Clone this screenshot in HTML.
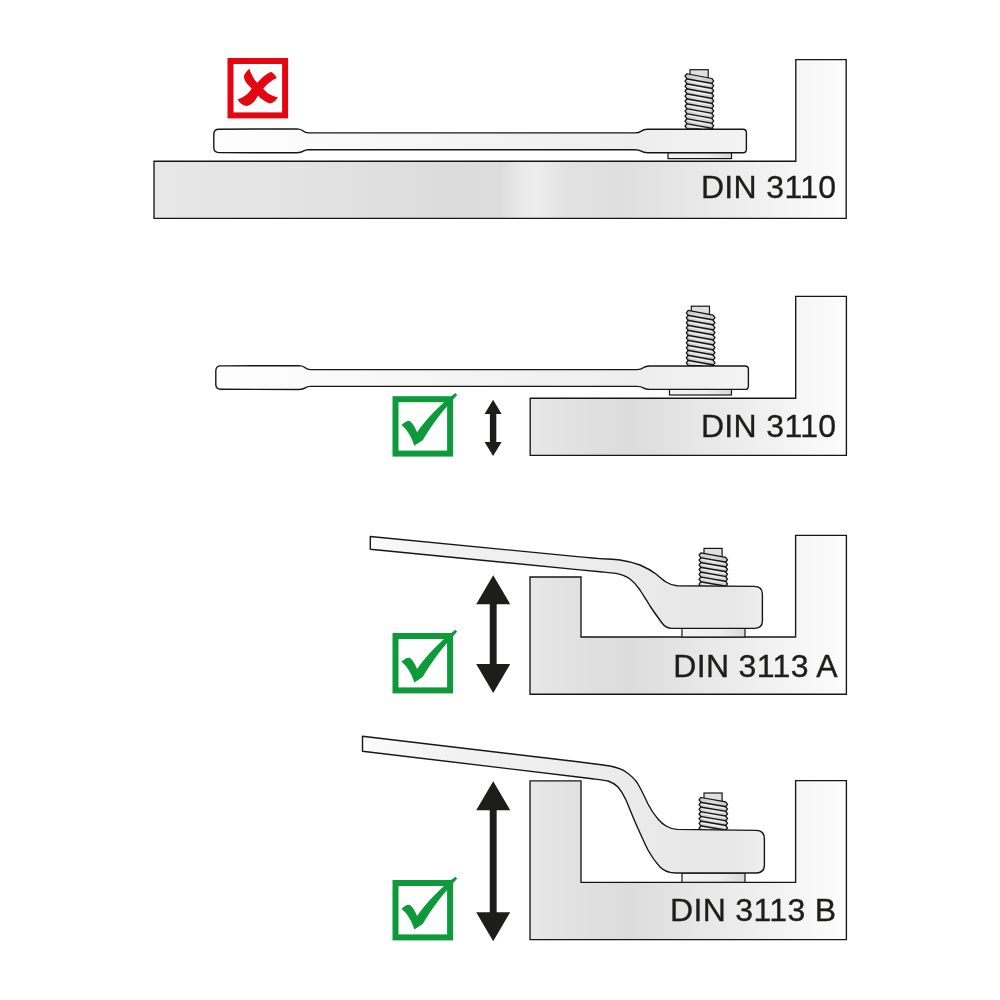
<!DOCTYPE html>
<html lang="de">
<head>
<meta charset="utf-8">
<title>DIN 3110 / DIN 3113 A / DIN 3113 B</title>
<style>
html,body{margin:0;padding:0;background:#fff;}
body{width:1000px;height:1000px;overflow:hidden;}
svg{display:block;will-change:transform;}
.lbl{font-family:"Liberation Sans",Arial,sans-serif;font-size:32px;letter-spacing:0.35px;fill:#1d1d1b;stroke:#1d1d1b;stroke-width:0.35px;}
</style>
</head>
<body>
<svg width="1000" height="1000" viewBox="0 0 1000 1000">
<rect width="1000" height="1000" fill="#fff"/>

<defs>
<linearGradient id="g1" gradientUnits="userSpaceOnUse" x1="155" y1="0" x2="846" y2="0">
 <stop offset="0" stop-color="#e7e7e7"/><stop offset="0.2" stop-color="#e3e3e3"/><stop offset="0.42" stop-color="#dcdcdc"/>
 <stop offset="0.5" stop-color="#dddddd"/><stop offset="0.535" stop-color="#ebebeb"/><stop offset="0.555" stop-color="#ededed"/>
 <stop offset="0.6" stop-color="#e1e1e1"/><stop offset="0.68" stop-color="#dfdfdf"/><stop offset="0.8" stop-color="#e9e9e9"/>
 <stop offset="0.93" stop-color="#f6f6f6"/><stop offset="1" stop-color="#fcfcfc"/>
</linearGradient>
<linearGradient id="g2" gradientUnits="userSpaceOnUse" x1="530" y1="0" x2="846" y2="0">
 <stop offset="0" stop-color="#e7e7e7"/><stop offset="0.08" stop-color="#e4e4e4"/><stop offset="0.2" stop-color="#dfdfdf"/><stop offset="0.32" stop-color="#dcdcdc"/>
 <stop offset="0.55" stop-color="#e8e8e8"/><stop offset="0.7" stop-color="#eeeeee"/><stop offset="0.85" stop-color="#f6f6f6"/><stop offset="1" stop-color="#fcfcfc"/>
</linearGradient>
<linearGradient id="gwr" gradientUnits="userSpaceOnUse" x1="214" y1="0" x2="748" y2="0">
 <stop offset="0" stop-color="#fefefe"/><stop offset="0.2" stop-color="#fafafa"/><stop offset="0.5" stop-color="#f3f3f3"/><stop offset="0.8" stop-color="#eeeeee"/><stop offset="1" stop-color="#f3f3f3"/>
</linearGradient>
<linearGradient id="gwo" gradientUnits="userSpaceOnUse" x1="360" y1="0" x2="765" y2="0">
 <stop offset="0" stop-color="#fbfbfb"/><stop offset="0.25" stop-color="#f1f1f1"/><stop offset="0.5" stop-color="#eeeeee"/><stop offset="0.75" stop-color="#e9e9e9"/><stop offset="0.92" stop-color="#e7e7e7"/><stop offset="1" stop-color="#eeeeee"/>
</linearGradient>
<linearGradient id="gb" x1="0" y1="0" x2="1" y2="0">
 <stop offset="0" stop-color="#c8c8c8"/><stop offset="0.5" stop-color="#dcdcdc"/><stop offset="1" stop-color="#c4c4c4"/>
</linearGradient>
<linearGradient id="gw" x1="0" y1="0" x2="1" y2="0">
 <stop offset="0" stop-color="#f4f4f4"/><stop offset="0.6" stop-color="#eeeeee"/><stop offset="1" stop-color="#d8d8d8"/>
</linearGradient>
</defs>
<g id="panel-din3110-blocked" role="img" aria-label="DIN 3110 wrench blocked by surface">
<path d="M154,161.2 L795.8,161.2 L795.8,59.6 L846.2,59.6 L846.2,218.4 L154,218.4Z" fill="url(#g1)" stroke="#161616" stroke-width="1.35" stroke-linejoin="miter"/>
<rect x="690.00" y="69.70" width="18.20" height="9.05" fill="#e0e0e0" stroke="#161616" stroke-width="1.2"/>
<path d="M686.90,73.75 L685.00,76.24 L686.90,78.74 L685.00,81.23 L686.90,83.72 L685.00,86.22 L686.90,88.71 L685.00,91.20 L686.90,93.70 L685.00,96.19 L686.90,98.68 L685.00,101.17 L686.90,103.67 L685.00,106.16 L686.90,108.65 L685.00,111.15 L686.90,113.64 L685.00,116.13 L686.90,118.63 L685.00,121.12 L686.90,123.61 L685.00,126.11 L686.90,128.60 L711.80,129.20 L713.70,129.20 L711.80,128.35 L713.70,125.86 L711.80,123.36 L713.70,120.87 L711.80,118.38 L713.70,115.88 L711.80,113.39 L713.70,110.90 L711.80,108.41 L713.70,105.91 L711.80,103.42 L713.70,100.93 L711.80,98.43 L713.70,95.94 L711.80,93.45 L713.70,90.95 L711.80,88.46 L713.70,85.97 L711.80,83.47 L713.70,80.98 L711.80,78.49Z" fill="url(#gb)" stroke="#161616" stroke-width="1.25" stroke-linejoin="round"/>
<path d="M687.60,80.64 L711.10,85.07" stroke="#f4f4f4" stroke-width="1.15" fill="none"/>
<path d="M686.20,78.74 L712.50,83.47" stroke="#161616" stroke-width="1.45" fill="none"/>
<path d="M687.60,85.62 L711.10,90.06" stroke="#f4f4f4" stroke-width="1.15" fill="none"/>
<path d="M686.20,83.72 L712.50,88.46" stroke="#161616" stroke-width="1.45" fill="none"/>
<path d="M687.60,90.61 L711.10,95.05" stroke="#f4f4f4" stroke-width="1.15" fill="none"/>
<path d="M686.20,88.71 L712.50,93.45" stroke="#161616" stroke-width="1.45" fill="none"/>
<path d="M687.60,95.60 L711.10,100.03" stroke="#f4f4f4" stroke-width="1.15" fill="none"/>
<path d="M686.20,93.70 L712.50,98.43" stroke="#161616" stroke-width="1.45" fill="none"/>
<path d="M687.60,100.58 L711.10,105.02" stroke="#f4f4f4" stroke-width="1.15" fill="none"/>
<path d="M686.20,98.68 L712.50,103.42" stroke="#161616" stroke-width="1.45" fill="none"/>
<path d="M687.60,105.57 L711.10,110.01" stroke="#f4f4f4" stroke-width="1.15" fill="none"/>
<path d="M686.20,103.67 L712.50,108.41" stroke="#161616" stroke-width="1.45" fill="none"/>
<path d="M687.60,110.55 L711.10,114.99" stroke="#f4f4f4" stroke-width="1.15" fill="none"/>
<path d="M686.20,108.65 L712.50,113.39" stroke="#161616" stroke-width="1.45" fill="none"/>
<path d="M687.60,115.54 L711.10,119.98" stroke="#f4f4f4" stroke-width="1.15" fill="none"/>
<path d="M686.20,113.64 L712.50,118.38" stroke="#161616" stroke-width="1.45" fill="none"/>
<path d="M687.60,120.53 L711.10,124.96" stroke="#f4f4f4" stroke-width="1.15" fill="none"/>
<path d="M686.20,118.63 L712.50,123.36" stroke="#161616" stroke-width="1.45" fill="none"/>
<path d="M687.60,125.51 L711.10,129.95" stroke="#f4f4f4" stroke-width="1.15" fill="none"/>
<path d="M686.20,123.61 L712.50,128.35" stroke="#161616" stroke-width="1.45" fill="none"/>
<rect x="668" y="152.5" width="63.5" height="6.099999999999994" fill="url(#gw)" stroke="#161616" stroke-width="1.2"/>
<path d="M218.8,129.2 L297,128.89999999999998 C305,129.2 301.5,132.9 308.5,132.9 L635,132.9 C643,132.9 639.5,129.3 647.5,129.3 L742.9,129.3 Q746.4,129.3 746.4,132.8 L746.4,149.2 Q746.4,152.7 742.9,152.7 L647.5,152.7 C639.5,152.7 643,149.7 635,149.7 L308.5,149.7 C301.5,149.7 305,152.6 297,152.79999999999998 L218.8,152.6 Q213.8,152.6 213.8,147.6 L213.8,134.2 Q213.8,129.2 218.8,129.2Z" fill="url(#gwr)" stroke="#161616" stroke-width="1.4" stroke-linejoin="round"/>
<rect x="230.5" y="61" width="54.6" height="54.4" fill="#fff" stroke="#e30613" stroke-width="6"/><path transform="translate(220.1,50) scale(0.08)" d="M365,235 C390,300 420,370 465,410 C520,350 580,290 640,275 C670,290 690,320 710,350 C640,380 580,430 540,485 C580,540 650,580 720,590 C700,630 670,660 620,670 C560,650 510,610 475,570 C440,640 390,690 330,700 C280,690 240,660 220,615 C300,590 360,540 395,480 C340,430 290,380 300,320 C310,290 340,260 365,235Z" fill="#e30613"/>
<g opacity="0.999"><text x="836.5" y="198.3" text-anchor="end" class="lbl">DIN 3110</text></g>
</g>
<g id="panel-din3110-clear" role="img" aria-label="DIN 3110 wrench with small clearance">
<path d="M530.2,398.2 L795.7,398.2 L795.7,296.3 L846.4,296.3 L846.4,455.4 L530.2,455.4Z" fill="url(#g2)" stroke="#161616" stroke-width="1.35"/>
<rect x="691.30" y="306.20" width="18.20" height="9.10" fill="#e0e0e0" stroke="#161616" stroke-width="1.2"/>
<path d="M688.20,310.30 L686.30,312.80 L688.20,315.30 L686.30,317.80 L688.20,320.30 L686.30,322.80 L688.20,325.30 L686.30,327.80 L688.20,330.30 L686.30,332.80 L688.20,335.30 L686.30,337.80 L688.20,340.30 L686.30,342.80 L688.20,345.30 L686.30,347.80 L688.20,350.30 L686.30,352.80 L688.20,355.30 L686.30,357.80 L688.20,360.30 L686.30,362.80 L688.20,365.30 L713.10,365.90 L715.00,365.90 L713.10,365.05 L715.00,362.55 L713.10,360.05 L715.00,357.55 L713.10,355.05 L715.00,352.55 L713.10,350.05 L715.00,347.55 L713.10,345.05 L715.00,342.55 L713.10,340.05 L715.00,337.55 L713.10,335.05 L715.00,332.55 L713.10,330.05 L715.00,327.55 L713.10,325.05 L715.00,322.55 L713.10,320.05 L715.00,317.55 L713.10,315.05Z" fill="url(#gb)" stroke="#161616" stroke-width="1.25" stroke-linejoin="round"/>
<path d="M688.90,317.20 L712.40,321.65" stroke="#f4f4f4" stroke-width="1.15" fill="none"/>
<path d="M687.50,315.30 L713.80,320.05" stroke="#161616" stroke-width="1.45" fill="none"/>
<path d="M688.90,322.20 L712.40,326.65" stroke="#f4f4f4" stroke-width="1.15" fill="none"/>
<path d="M687.50,320.30 L713.80,325.05" stroke="#161616" stroke-width="1.45" fill="none"/>
<path d="M688.90,327.20 L712.40,331.65" stroke="#f4f4f4" stroke-width="1.15" fill="none"/>
<path d="M687.50,325.30 L713.80,330.05" stroke="#161616" stroke-width="1.45" fill="none"/>
<path d="M688.90,332.20 L712.40,336.65" stroke="#f4f4f4" stroke-width="1.15" fill="none"/>
<path d="M687.50,330.30 L713.80,335.05" stroke="#161616" stroke-width="1.45" fill="none"/>
<path d="M688.90,337.20 L712.40,341.65" stroke="#f4f4f4" stroke-width="1.15" fill="none"/>
<path d="M687.50,335.30 L713.80,340.05" stroke="#161616" stroke-width="1.45" fill="none"/>
<path d="M688.90,342.20 L712.40,346.65" stroke="#f4f4f4" stroke-width="1.15" fill="none"/>
<path d="M687.50,340.30 L713.80,345.05" stroke="#161616" stroke-width="1.45" fill="none"/>
<path d="M688.90,347.20 L712.40,351.65" stroke="#f4f4f4" stroke-width="1.15" fill="none"/>
<path d="M687.50,345.30 L713.80,350.05" stroke="#161616" stroke-width="1.45" fill="none"/>
<path d="M688.90,352.20 L712.40,356.65" stroke="#f4f4f4" stroke-width="1.15" fill="none"/>
<path d="M687.50,350.30 L713.80,355.05" stroke="#161616" stroke-width="1.45" fill="none"/>
<path d="M688.90,357.20 L712.40,361.65" stroke="#f4f4f4" stroke-width="1.15" fill="none"/>
<path d="M687.50,355.30 L713.80,360.05" stroke="#161616" stroke-width="1.45" fill="none"/>
<path d="M688.90,362.20 L712.40,366.65" stroke="#f4f4f4" stroke-width="1.15" fill="none"/>
<path d="M687.50,360.30 L713.80,365.05" stroke="#161616" stroke-width="1.45" fill="none"/>
<rect x="669.5" y="389.3" width="62.0" height="5.699999999999989" fill="url(#gw)" stroke="#161616" stroke-width="1.2"/>
<path d="M220.8,365.9 L299,365.59999999999997 C307,365.9 303.5,369.6 310.5,369.6 L637,369.6 C645,369.6 641.5,366.0 649.5,366.0 L744.9,366.0 Q748.4,366.0 748.4,369.5 L748.4,385.9 Q748.4,389.4 744.9,389.4 L649.5,389.4 C641.5,389.4 645,386.4 637,386.4 L310.5,386.4 C303.5,386.4 307,389.29999999999995 299,389.49999999999994 L220.8,389.29999999999995 Q215.8,389.29999999999995 215.8,384.29999999999995 L215.8,370.9 Q215.8,365.9 220.8,365.9Z" fill="url(#gwr)" stroke="#161616" stroke-width="1.4" stroke-linejoin="round"/>
<rect x="395.5" y="399.2" width="54.6" height="54.4" fill="#fff" stroke="#0e9a3b" stroke-width="6"/><path transform="translate(385.1,385.0) scale(0.08)" d="M205,500 C240,465 280,440 315,455 C350,480 380,540 400,590 C520,420 700,230 880,100 L900,125 C750,280 580,500 470,690 L365,760 C340,680 300,580 205,500Z" fill="#0e9a3b"/>
<path d="M493.1,399.7 L501.6,413.9 L496.3,413.9 L496.3,441.90000000000003 L501.6,441.90000000000003 L493.1,456.1 L484.6,441.90000000000003 L489.90000000000003,441.90000000000003 L489.90000000000003,413.9 L484.6,413.9Z" fill="#1d1d1b"/>
<g opacity="0.999"><text x="836.5" y="437" text-anchor="end" class="lbl">DIN 3110</text></g>
</g>
<g id="panel-din3113a" role="img" aria-label="DIN 3113 A offset ring wrench, medium clearance">
<path d="M530,577 L581,577 L581,637 L795.6,637 L795.6,535.4 L846.4,535.4 L846.4,694.2 L530,694.2Z" fill="url(#g2)" stroke="#161616" stroke-width="1.35"/>
<rect x="704.00" y="548.40" width="18.10" height="9.40" fill="#e0e0e0" stroke="#161616" stroke-width="1.2"/>
<path d="M700.90,552.80 L699.00,555.21 L700.90,557.61 L699.00,560.02 L700.90,562.43 L699.00,564.84 L700.90,567.24 L699.00,569.65 L700.90,572.06 L699.00,574.46 L700.90,576.87 L699.00,579.28 L700.90,581.69 L699.00,584.09 L700.90,586.50 L725.70,587.10 L727.60,587.10 L725.70,586.26 L727.60,583.85 L725.70,581.44 L727.60,579.04 L725.70,576.63 L727.60,574.22 L725.70,571.82 L727.60,569.41 L725.70,567.00 L727.60,564.59 L725.70,562.19 L727.60,559.78 L725.70,557.37Z" fill="url(#gb)" stroke="#161616" stroke-width="1.25" stroke-linejoin="round"/>
<path d="M701.60,559.51 L725.00,563.79" stroke="#f4f4f4" stroke-width="1.15" fill="none"/>
<path d="M700.20,557.61 L726.40,562.19" stroke="#161616" stroke-width="1.45" fill="none"/>
<path d="M701.60,564.33 L725.00,568.60" stroke="#f4f4f4" stroke-width="1.15" fill="none"/>
<path d="M700.20,562.43 L726.40,567.00" stroke="#161616" stroke-width="1.45" fill="none"/>
<path d="M701.60,569.14 L725.00,573.42" stroke="#f4f4f4" stroke-width="1.15" fill="none"/>
<path d="M700.20,567.24 L726.40,571.82" stroke="#161616" stroke-width="1.45" fill="none"/>
<path d="M701.60,573.96 L725.00,578.23" stroke="#f4f4f4" stroke-width="1.15" fill="none"/>
<path d="M700.20,572.06 L726.40,576.63" stroke="#161616" stroke-width="1.45" fill="none"/>
<path d="M701.60,578.77 L725.00,583.04" stroke="#f4f4f4" stroke-width="1.15" fill="none"/>
<path d="M700.20,576.87 L726.40,581.44" stroke="#161616" stroke-width="1.45" fill="none"/>
<path d="M701.60,583.59 L725.00,587.86" stroke="#f4f4f4" stroke-width="1.15" fill="none"/>
<path d="M700.20,581.69 L726.40,586.26" stroke="#161616" stroke-width="1.45" fill="none"/>
<rect x="682" y="628" width="63" height="9" fill="url(#gw)" stroke="#161616" stroke-width="1.2"/>
<path d="M370.3,536.5 L580,556.9 C600,559 612,559 620,560 C630,561.5 636,563.5 640,565 C648,568.5 652,571 656,574 C660,577.5 663,580 666,582 C670,584.5 673,585.6 677,585.8 L754,586.4 Q762.4,586.4 762.4,594 L762.4,621 Q762.4,628.4 754,628.4 L672,628.4 C667,628.4 664.5,626.5 662,623 C658,617.5 654,612 650,606 C646,599 643,595 640,590 C637,585.5 634,582 630,579 C626,576 621,574.3 616,573.4 C610,572.6 604,572.2 600,571.8 L580,569.9 L370.3,549.2Z" fill="url(#gwo)" stroke="#161616" stroke-width="1.4" stroke-linejoin="round"/>
<rect x="395.5" y="636" width="54.6" height="54.4" fill="#fff" stroke="#0e9a3b" stroke-width="6"/><path transform="translate(385.1,621.8) scale(0.08)" d="M205,500 C240,465 280,440 315,455 C350,480 380,540 400,590 C520,420 700,230 880,100 L900,125 C750,280 580,500 470,690 L365,760 C340,680 300,580 205,500Z" fill="#0e9a3b"/>
<path d="M493.2,575.2 L510.2,604.2 L496.65,604.2 L496.65,664.1 L510.2,664.1 L493.2,693.1 L476.2,664.1 L489.75,664.1 L489.75,604.2 L476.2,604.2Z" fill="#1d1d1b"/>
<g opacity="0.999"><text x="838" y="677" text-anchor="end" class="lbl">DIN 3113 A</text></g>
</g>
<g id="panel-din3113b" role="img" aria-label="DIN 3113 B deep offset ring wrench, large clearance">
<path d="M530,780.8 L581,780.8 L581,882.3 L795.6,882.3 L795.6,780.6 L846.4,780.6 L846.4,939.6 L530,939.6Z" fill="url(#g2)" stroke="#161616" stroke-width="1.35"/>
<rect x="704.00" y="793.00" width="18.10" height="9.50" fill="#e0e0e0" stroke="#161616" stroke-width="1.2"/>
<path d="M700.90,797.50 L699.00,799.86 L700.90,802.21 L699.00,804.57 L700.90,806.93 L699.00,809.29 L700.90,811.64 L699.00,814.00 L700.90,816.36 L699.00,818.71 L700.90,821.07 L699.00,823.43 L700.90,825.79 L699.00,828.14 L700.90,830.50 L725.70,831.10 L727.60,831.10 L725.70,830.26 L727.60,827.91 L725.70,825.55 L727.60,823.19 L725.70,820.84 L727.60,818.48 L725.70,816.12 L727.60,813.76 L725.70,811.41 L727.60,809.05 L725.70,806.69 L727.60,804.34 L725.70,801.98Z" fill="url(#gb)" stroke="#161616" stroke-width="1.25" stroke-linejoin="round"/>
<path d="M701.60,804.11 L725.00,808.29" stroke="#f4f4f4" stroke-width="1.15" fill="none"/>
<path d="M700.20,802.21 L726.40,806.69" stroke="#161616" stroke-width="1.45" fill="none"/>
<path d="M701.60,808.83 L725.00,813.01" stroke="#f4f4f4" stroke-width="1.15" fill="none"/>
<path d="M700.20,806.93 L726.40,811.41" stroke="#161616" stroke-width="1.45" fill="none"/>
<path d="M701.60,813.54 L725.00,817.72" stroke="#f4f4f4" stroke-width="1.15" fill="none"/>
<path d="M700.20,811.64 L726.40,816.12" stroke="#161616" stroke-width="1.45" fill="none"/>
<path d="M701.60,818.26 L725.00,822.44" stroke="#f4f4f4" stroke-width="1.15" fill="none"/>
<path d="M700.20,816.36 L726.40,820.84" stroke="#161616" stroke-width="1.45" fill="none"/>
<path d="M701.60,822.97 L725.00,827.15" stroke="#f4f4f4" stroke-width="1.15" fill="none"/>
<path d="M700.20,821.07 L726.40,825.55" stroke="#161616" stroke-width="1.45" fill="none"/>
<path d="M701.60,827.69 L725.00,831.86" stroke="#f4f4f4" stroke-width="1.15" fill="none"/>
<path d="M700.20,825.79 L726.40,830.26" stroke="#161616" stroke-width="1.45" fill="none"/>
<rect x="682" y="873" width="63" height="9.299999999999955" fill="url(#gw)" stroke="#161616" stroke-width="1.2"/>
<path d="M362.5,736.2 L580,762 C592,763.5 602,764.6 610,766 C617,767.4 622,769 626,772 C631,775.5 635,779 638,784 C642,791 645,797.5 648,804 C651.5,811 654.5,815 658,819 C660.5,822 663,824.3 666,826 C669.5,828 672.5,829.2 677,829.4 L756,830.4 Q764.4,830.4 764.4,839 L764.4,865 Q764.4,873 756,873 L676,873 C669,873 664,871 660,867 C655,861.5 651.5,856.5 648,850 C643.5,841 640,833 636,824 C632,815 629,807 626,800 C623.5,794.5 621,790.5 618,787 C615,784 612,782.3 608,781 C603,779.8 598,779.4 592,778.7 L580,777.3 L362.5,751.2Z" fill="url(#gwo)" stroke="#161616" stroke-width="1.4" stroke-linejoin="round"/>
<rect x="395.5" y="883" width="54.6" height="54.4" fill="#fff" stroke="#0e9a3b" stroke-width="6"/><path transform="translate(385.1,868.8) scale(0.08)" d="M205,500 C240,465 280,440 315,455 C350,480 380,540 400,590 C520,420 700,230 880,100 L900,125 C750,280 580,500 470,690 L365,760 C340,680 300,580 205,500Z" fill="#0e9a3b"/>
<path d="M493.2,781.2 L510.2,810.2 L496.65,810.2 L496.65,912.2 L510.2,912.2 L493.2,941.2 L476.2,912.2 L489.75,912.2 L489.75,810.2 L476.2,810.2Z" fill="#1d1d1b"/>
<g opacity="0.999"><text x="836.5" y="921" text-anchor="end" class="lbl">DIN 3113 B</text></g>
</g>
</svg>
</body>
</html>
